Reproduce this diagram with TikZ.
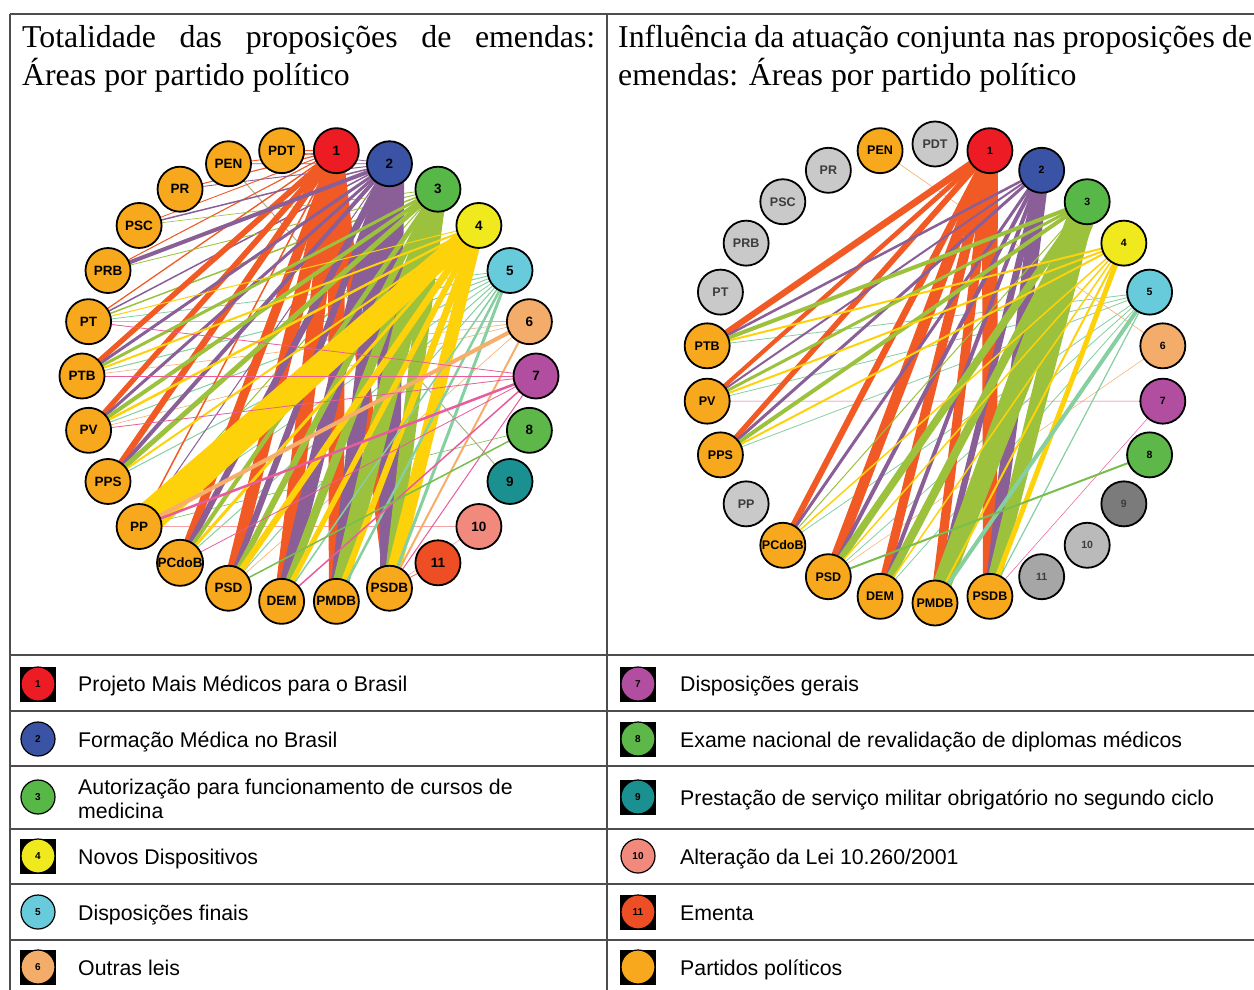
\documentclass[tikz,border=0pt]{standalone}
\usepackage{fontspec}
\setmainfont{Liberation Serif}
\setsansfont{Liberation Sans}
\usetikzlibrary{backgrounds,calc}
\definecolor{c1}{HTML}{ED1C24}
\definecolor{c2}{HTML}{3A53A4}
\definecolor{c3}{HTML}{57B847}
\definecolor{c4}{HTML}{EFE91D}
\definecolor{c5}{HTML}{68CBDB}
\definecolor{c6}{HTML}{F4AC6A}
\definecolor{c7}{HTML}{B14EA0}
\definecolor{c8}{HTML}{5DB749}
\definecolor{c9}{HTML}{1A9190}
\definecolor{c10}{HTML}{F1897C}
\definecolor{c11}{HTML}{EE4E24}
\definecolor{cp}{HTML}{F8A81C}
\definecolor{cg}{HTML}{C9C9C9}
\definecolor{cg9}{HTML}{7B7B7B}
\definecolor{cg10}{HTML}{BABABA}
\definecolor{cg11}{HTML}{A6A6A6}
\definecolor{tg}{HTML}{3C3C3C}
\definecolor{e1}{HTML}{F15A24}
\definecolor{e2}{HTML}{8A5E96}
\definecolor{e3}{HTML}{9CC23D}
\definecolor{e4}{HTML}{FDD20B}
\definecolor{e5}{HTML}{86CFA0}
\definecolor{e6}{HTML}{F7AE6B}
\definecolor{e7}{HTML}{E85C9C}
\definecolor{e8}{HTML}{78BE4B}
\definecolor{e9}{HTML}{A9B38A}
\definecolor{e10}{HTML}{F3A3A8}
\definecolor{e11}{HTML}{F26B3A}
\definecolor{rule}{HTML}{4D4D4D}
\newcommand\tband[5]{%
  \fill[#5] ($(#1.center)!#3/2*1pt!90:(#2.center)$) -- ($(#1.center)!#3/2*1pt!-90:(#2.center)$)
    -- ($(#2.center)!#4/2*1pt!90:(#1.center)$) -- ($(#2.center)!#4/2*1pt!-90:(#1.center)$) -- cycle;}
\begin{document}
\begin{tikzpicture}[x=1pt,y=-1pt,
  lnode/.style={circle,draw=black,line width=1.8pt,minimum size=45pt,inner sep=0pt,
    font=\sffamily\bfseries\fontsize{13.5}{14}\selectfont},
  rnode/.style={circle,draw=black,line width=1.8pt,minimum size=45pt,inner sep=0pt,
    font=\sffamily\bfseries\fontsize{12.5}{13}\selectfont},
  legc/.style={circle,draw=black,line width=1.2pt,minimum size=34pt,inner sep=0pt,
    font=\sffamily\bfseries\fontsize{10}{10}\selectfont},
  legsq/.style={rectangle,fill=black,minimum width=36pt,minimum height=35pt,inner sep=0pt},
  ltext/.style={anchor=base west,inner sep=0pt,font=\sffamily\fontsize{21.3}{24}\selectfont},
  ttl/.style={anchor=base west,inner sep=0pt,font=\fontsize{31.8}{36}\selectfont},
  rl/.style={draw=rule,line width=1.4pt}]
\useasboundingbox (0,0) rectangle (1254,990);

% ---------- left network nodes ----------
\foreach \n/\f [count=\k from 0] in {7/c7,6/c6,5/c5,4/c4,3/c3,2/c2,1/c1,PDT/cp,PEN/cp,PR/cp,PSC/cp,PRB/cp,PT/cp,PTB/cp,PV/cp,PPS/cp,PP/cp,PCdoB/cp,PSD/cp,DEM/cp,PMDB/cp,PSDB/cp,11/c11,10/c10,9/c9,8/c8}{
  \pgfmathsetmacro\ang{\k*360/26}
  \node[lnode,fill=\f] (L\n) at ({309+227*cos(\ang)},{376-227*sin(\ang)}) {\n};
}
% ---------- right network nodes ----------
\foreach \n/\f/\tc/\fs [count=\k from 0] in {7/c7/black/10.5,6/c6/black/10.5,5/c5/black/10.5,4/c4/black/10.5,3/c3/black/10.5,2/c2/black/10.5,1/c1/black/10.5,PDT/cg/tg/12.5,PEN/cp/black/12.5,PR/cg/tg/12.5,PSC/cg/tg/12.5,PRB/cg/tg/12.5,PT/cg/tg/12.5,PTB/cp/black/12.5,PV/cp/black/12.5,PPS/cp/black/12.5,PP/cg/tg/12.5,PCdoB/cp/black/12.5,PSD/cp/black/12.5,DEM/cp/black/12.5,PMDB/cp/black/12.5,PSDB/cp/black/12.5,11/cg11/tg/10.5,10/cg10/tg/10.5,9/cg9/tg/10.5,8/c8/black/10.5}{
  \pgfmathsetmacro\ang{\k*360/26-360/52}
  \node[rnode,fill=\f,text=\tc,font=\sffamily\bfseries\fontsize{\fs}{\fs}\selectfont] (R\n) at ({935+229.5*cos(\ang)},{373.5-229.5*sin(\ang)}) {\n};
}

\begin{pgfonlayer}{background}
\fill[white] (0,0) rectangle (1254,990);
% left edges: topic/party/width at topic/width at party
\foreach \t/\p/\a/\b in {
  5/PT/0.8/0.8,5/PTB/1/1,5/PV/1/1,5/PPS/1/1,5/PP/0.8/0.8,5/PCdoB/1/1,5/PSD/1/1,
  6/PT/0.6/0.6,6/PTB/0.6/0.6,6/PV/0.6/0.6,6/PSD/0.6/0.6,10/PP/0.6/0.6,10/PSDB/0.6/0.6,
  9/PEN/1/1,8/PP/0.6/0.6,
  1/PDT/1/0.8,1/PEN/1/0.8,1/PR/1.2/1,1/PSC/1/0.8,1/PRB/1.2/1,1/PT/1.5/1.2,1/PP/1.5/1.5,
  2/PDT/0.8/0.6,2/PEN/0.8/0.6,2/PR/1/0.8,2/PSC/1.5/1.5,2/PT/1.5/1.5,2/PP/1/1,
  3/PSC/0.8/0.6,3/PRB/1/0.8,3/PT/1.5/1.5,3/PP/1/1,
  1/PTB/6/5,1/PV/6/5,1/PPS/7/6,1/PCdoB/10/8,1/PSD/14/12,1/DEM/17/15,1/PMDB/17/15,1/PSDB/13/10,
  2/PRB/4/4,2/PTB/3/3,2/PV/3/3,2/PPS/4/4,2/PCdoB/7/6,2/PSD/7/6,2/DEM/18/13,2/PMDB/20/15,2/PSDB/30/18,
  3/PTB/3/3,3/PV/4/4,3/PPS/5/5,3/PCdoB/5/4,3/PSD/7/6,3/DEM/10/8,3/PMDB/24/16,3/PSDB/18/12,
  4/PT/1/1,4/PTB/2/2,4/PV/2.5/2.5,4/PPS/2/2,4/PP/18/32,4/PCdoB/3/3,4/PSD/7/6,4/DEM/6/5,4/PMDB/7/6,4/PSDB/12/14,
  5/DEM/1.5/1.5,5/PMDB/2.5/2.5,5/PSDB/3/3,
  6/PP/4/4,6/PSDB/2/2,
  7/PT/0.8/0.8,7/PTB/0.8/0.8,7/PV/0.8/0.8,7/PP/2.5/2.5,7/PCdoB/0.8/0.8,7/DEM/1.5/1.5,7/PSDB/1/1,
  8/PSD/1.5/1.5,11/PSDB/0.8/0.8}{
  \tband{L\t}{L\p}{\a}{\b}{e\t}
}
% right edges
\foreach \t/\p/\a/\b in {
  5/PTB/0.8/0.8,5/PV/0.8/0.8,5/PPS/0.8/0.8,5/PCdoB/0.8/0.8,5/PSD/0.8/0.8,5/DEM/0.8/0.8,
  6/PEN/0.6/0.6,6/PSD/0.5/0.5,7/PV/0.6/0.6,7/PSDB/0.5/0.5,
  1/PTB/7/6,1/PV/5/4,1/PPS/6/5,1/PCdoB/7/6,1/PSD/12/10,1/DEM/10/9,1/PMDB/10/9,1/PSDB/16/14,
  2/PTB/2.5/2.5,2/PV/2/2,2/PPS/3/3,2/PCdoB/3/3,2/PSD/4/4,2/DEM/4/4,2/PMDB/7/6,2/PSDB/16/11,
  3/PTB/4/4,3/PV/3/3,3/PPS/4/4,3/PCdoB/1/1,3/PSD/8/7,3/DEM/9/8,3/PMDB/28/18,3/PSDB/20/13,
  4/PTB/2/2,4/PV/2/2,4/PPS/2/2,4/PCdoB/1.5/1.5,4/PSD/1.5/1.5,4/DEM/1.5/1.5,4/PMDB/2/2,4/PSDB/5/5,
  5/PMDB/4/4,5/PSDB/1.2/1.2,8/PSD/2/2}{
  \tband{R\t}{R\p}{\a}{\b}{e\t}
}
\end{pgfonlayer}

% ---------- titles ----------
\node[ttl] (tl1) at (22,48) {\makebox[573pt][s]{Totalidade das proposições de emendas:}};
\node[ttl] (tl2) at (22,85) {Áreas por partido político};
\node[ttl] (tr1) at (618,48) {\makebox[634pt][s]{Influência da atuação conjunta nas proposições de}};
\node[ttl] (tr2) at (618,85) {emendas: Áreas por partido político};

% ---------- table rules ----------
\draw[rl] (10,14) -- (1254,14);
\draw[rl] (10,14) -- (10,990);
\draw[rl] (607,14) -- (607,990);
\foreach \yy in {655,711,766,829,884,940}{\draw[rl] (10,\yy) -- (1254,\yy);}

% ---------- legend ----------
\node[legsq] (s1) at (38,684) {};
\node[legsq] (s4) at (38,856) {};
\node[legsq] (s6) at (38,967) {};
\node[legsq] (s7) at (638,684) {};
\node[legsq] (s8) at (638,739) {};
\node[legsq] (s9) at (638,797) {};
\node[legsq] (s11) at (638,912) {};
\node[legsq] (sp) at (638,967) {};

\node[legc,fill=c1] (g1) at (38,684) {1};
\node[legc,fill=c2] (g2) at (38,739) {2};
\node[legc,fill=c3] (g3) at (38,797) {3};
\node[legc,fill=c4] (g4) at (38,856) {4};
\node[legc,fill=c5] (g5) at (38,912) {5};
\node[legc,fill=c6] (g6) at (38,967) {6};
\node[legc,fill=c7] (g7) at (638,684) {7};
\node[legc,fill=c8] (g8) at (638,739) {8};
\node[legc,fill=c9] (g9) at (638,797) {9};
\node[legc,fill=c10] (g10) at (638,856) {10};
\node[legc,fill=c11] (g11) at (638,912) {11};
\node[legc,fill=cp] (gp) at (638,967) {};

\node[ltext] (t1) at (78,691.5) {Projeto Mais Médicos para o Brasil};
\node[ltext] (t2) at (78,747) {Formação Médica no Brasil};
\node[ltext] (t3a) at (78,794) {Autorização para funcionamento de cursos de};
\node[ltext] (t3b) at (78,818) {medicina};
\node[ltext] (t4) at (78,864) {Novos Dispositivos};
\node[ltext] (t5) at (78,920) {Disposições finais};
\node[ltext] (t6) at (78,975) {Outras leis};
\node[ltext] (t7) at (680,691.5) {Disposições gerais};
\node[ltext] (t8) at (680,747) {Exame nacional de revalidação de diplomas médicos};
\node[ltext] (t9) at (680,805) {Prestação de serviço militar obrigatório no segundo ciclo};
\node[ltext] (t10) at (680,864) {Alteração da Lei 10.260/2001};
\node[ltext] (t11) at (680,920) {Ementa};
\node[ltext] (tp) at (680,975) {Partidos políticos};
\end{tikzpicture}
\end{document}
